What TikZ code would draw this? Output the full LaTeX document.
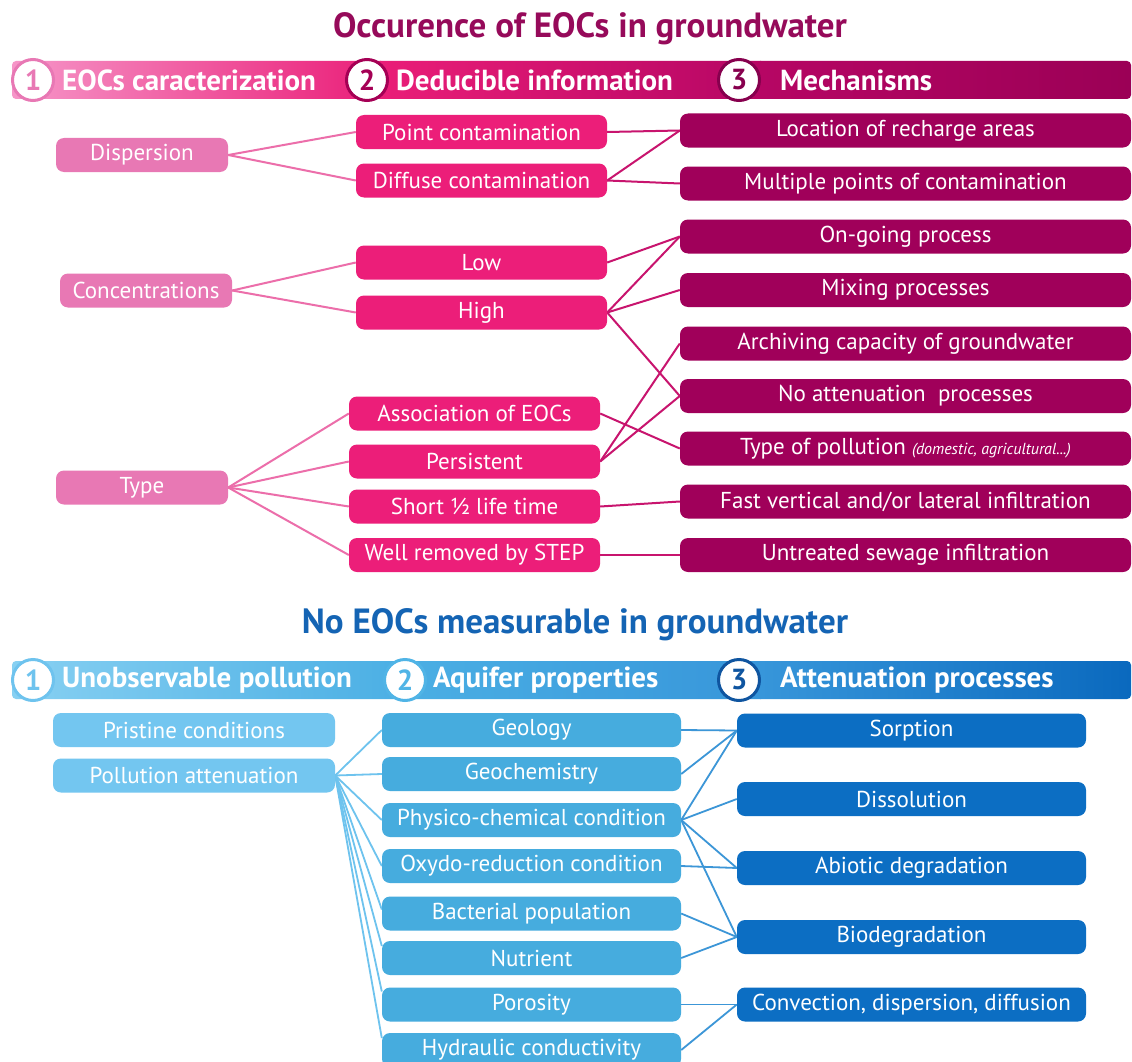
\documentclass[tikz,border=0pt]{standalone}
\usepackage{fontspec}
\setmainfont{PT Sans}
\definecolor{ptitle}{RGB}{150,10,90}
\definecolor{pone}{RGB}{232,120,180}
\definecolor{ptwo}{RGB}{236,30,121}
\definecolor{pthree}{RGB}{160,0,90}
\definecolor{plineA}{RGB}{236,110,170}
\definecolor{plineB}{RGB}{200,20,110}
\definecolor{pbarL}{RGB}{246,150,200}
\definecolor{pbarM}{RGB}{234,30,120}
\definecolor{pbarN}{RGB}{182,6,100}
\definecolor{pbarR}{RGB}{155,0,86}
\definecolor{pcircB}{RGB}{165,0,85}
\definecolor{pcircC}{RGB}{135,0,78}
\definecolor{btitle}{RGB}{20,100,180}
\definecolor{bone}{RGB}{115,198,240}
\definecolor{btwo}{RGB}{70,172,222}
\definecolor{bthree}{RGB}{12,110,195}
\definecolor{blineA}{RGB}{110,195,238}
\definecolor{blineB}{RGB}{60,150,215}
\definecolor{bbarL}{RGB}{135,208,242}
\definecolor{bbarM}{RGB}{75,175,228}
\definecolor{bbarN}{RGB}{55,150,218}
\definecolor{bbarR}{RGB}{10,105,190}
\definecolor{bcircA}{RGB}{110,195,238}
\definecolor{bcircB}{RGB}{80,180,230}
\definecolor{bcircC}{RGB}{15,85,160}
\pgfdeclarelayer{bg}
\pgfsetlayers{bg,main}
\newcommand{\boxfont}{\fontsize{23}{27}\selectfont}
\newcommand{\headfont}{\fontsize{29}{33}\selectfont\bfseries}
\newcommand{\titlefont}{\fontsize{35}{40}\selectfont\bfseries}
\begin{document}
\begin{tikzpicture}[x=1pt,y=-1pt,
  box/.style={rounded corners=8pt, inner sep=0pt, text=white, font=\boxfont, minimum height=34pt},
  pa/.style={box, fill=pone, minimum width=172pt},
  pb/.style={box, fill=ptwo, minimum width=251pt},
  pc/.style={box, fill=pthree, minimum width=451pt},
  ba/.style={box, fill=bone, minimum width=282pt},
  bb/.style={box, fill=btwo, minimum width=299pt},
  bc/.style={box, fill=bthree, minimum width=349pt},
  num/.style={circle, fill=white, line width=3pt, minimum size=41pt, inner sep=0pt, font=\headfont},
  head/.style={anchor=west, text=white, font=\headfont, inner sep=0pt},
  lnA/.style={line width=2pt, plineA},
  lnB/.style={line width=2pt, plineB},
  lnC/.style={line width=1.8pt, blineA},
  lnD/.style={line width=1.8pt, blineB}]
\useasboundingbox (0,0) rectangle (1132,1062);
\begin{pgfonlayer}{bg}
\fill[white] (0,0) rectangle (1132,1062);
\end{pgfonlayer}
\clip (0,0) rectangle (1132,1062);

% ---------- top section ----------
\node[font=\titlefont, text=ptitle] (t1) at (590,29) {Occurence of EOCs in groundwater};
\begin{scope}
\clip[rounded corners=4pt] (12,61) rectangle (1131,99);
\shade[left color=pbarL, right color=pbarM] (12,61) rectangle (381,99);
\shade[left color=pbarM, right color=pbarN] (380,61) rectangle (761,99);
\shade[left color=pbarN, right color=pbarR] (760,61) rectangle (1131,99);
\end{scope}
\node[num, draw=pone, text=pone] (c1) at (33,80) {1};
\node[num, draw=pcircB, text=pcircB] (c2) at (367,80) {2};
\node[num, draw=pcircC, text=pcircC] (c3) at (739,80) {3};
\node[head] (h1) at (62,80) {EOCs caracterization};
\node[head] (h2) at (396,80) {Deducible information};
\node[head] (h3) at (780,80) {Mechanisms};

\node[pa] (disp) at (142,155) {Dispersion};
\node[pa] (conc) at (146,290.5) {Concentrations};
\node[pa] (type) at (142,487.5) {Type};

\node[pb] (point) at (481.5,132) {Point contamination};
\node[pb] (diff) at (481.5,180.5) {Diffuse contamination};
\node[pb] (low) at (481.5,262.5) {Low};
\node[pb] (high) at (481.5,312.5) {High};
\node[pb] (assoc) at (474.5,413.5) {Association of EOCs};
\node[pb] (pers) at (474.5,461.5) {Persistent};
\node[pb] (short) at (474.5,506.5) {Short ½ life time};
\node[pb] (well) at (474.5,555) {Well removed by STEP};

\node[pc] (loc) at (905.5,130.5) {Location of recharge areas};
\node[pc] (mult) at (905.5,183.5) {Multiple points of contamination};
\node[pc] (ongo) at (905.5,236.5) {On-going process};
\node[pc] (mix) at (905.5,290) {Mixing processes};
\node[pc] (arch) at (905.5,343.5) {Archiving capacity of groundwater};
\node[pc] (noatt) at (905.5,396) {No attenuation\ \ processes};
\node[pc] (tpol) at (905.5,448.5) {Type of pollution {\fontsize{16}{18}\selectfont\itshape (domestic, agricultural...)}};
\node[pc] (fast) at (905.5,501.5) {Fast vertical and/or lateral infiltration};
\node[pc] (untr) at (905.5,555) {Untreated sewage infiltration};

\begin{pgfonlayer}{bg}
\draw[lnA] (disp.east) -- (point.west);
\draw[lnA] (disp.east) -- (diff.west);
\draw[lnA] (conc.east) -- (low.west);
\draw[lnA] (conc.east) -- (high.west);
\draw[lnA] (type.east) -- (assoc.west);
\draw[lnA] (type.east) -- (pers.west);
\draw[lnA] (type.east) -- (short.west);
\draw[lnA] (type.east) -- (well.west);
\draw[lnB] (point.east) -- (loc.west);
\draw[lnB] (diff.east) -- (loc.west);
\draw[lnB] (diff.east) -- (mult.west);
\draw[lnB] (low.east) -- (ongo.west);
\draw[lnB] (high.east) -- (ongo.west);
\draw[lnB] (high.east) -- (mix.west);
\draw[lnB] (high.east) -- (noatt.west);
\draw[lnB] (assoc.east) -- (tpol.west);
\draw[lnB] (pers.east) -- (arch.west);
\draw[lnB] (pers.east) -- (noatt.west);
\draw[lnB] (short.east) -- (fast.west);
\draw[lnB] (well.east) -- (untr.west);
\end{pgfonlayer}

% ---------- bottom section ----------
\node[font=\titlefont, text=btitle] (t2) at (575,625) {No EOCs measurable in groundwater};
\begin{scope}
\clip[rounded corners=4pt] (12,661) rectangle (1131,699);
\shade[left color=bbarL, right color=bbarM] (12,661) rectangle (401,699);
\shade[left color=bbarM, right color=bbarN] (400,661) rectangle (761,699);
\shade[left color=bbarN, right color=bbarR] (760,661) rectangle (1131,699);
\end{scope}
\node[num, draw=bcircA, text=bcircA] (d1) at (33,680) {1};
\node[num, draw=bcircB, text=bcircB] (d2) at (405,680) {2};
\node[num, draw=bcircC, text=bcircC] (d3) at (739,680) {3};
\node[head] (k1) at (62,680) {Unobservable pollution};
\node[head] (k2) at (433,680) {Aquifer properties};
\node[head] (k3) at (780,680) {Attenuation processes};

\node[ba] (prist) at (194,730) {Pristine conditions};
\node[ba] (patt) at (194,775.5) {Pollution attenuation};

\node[bb] (geol) at (531.5,730) {Geology};
\node[bb] (geoc) at (531.5,774) {Geochemistry};
\node[bb] (phys) at (531.5,820) {Physico-chemical condition};
\node[bb] (oxy) at (531.5,866) {Oxydo-reduction condition};
\node[bb] (bact) at (531.5,913.5) {Bacterial population};
\node[bb] (nutr) at (531.5,958) {Nutrient};
\node[bb] (poro) at (531.5,1004.5) {Porosity};
\node[bb] (hydr) at (531.5,1050) {Hydraulic conductivity};

\node[bc] (sorp) at (911.5,730.5) {Sorption};
\node[bc] (diss) at (911.5,799) {Dissolution};
\node[bc] (abio) at (911.5,868) {Abiotic degradation};
\node[bc] (biod) at (911.5,937) {Biodegradation};
\node[bc] (conv) at (911.5,1004.5) {Convection, dispersion, diffusion};

\begin{pgfonlayer}{bg}
\draw[lnC] (patt.east) -- (geol.west);
\draw[lnC] (patt.east) -- (geoc.west);
\draw[lnC] (patt.east) -- (phys.west);
\draw[lnC] (patt.east) -- (oxy.west);
\draw[lnC] (patt.east) -- ([yshift=4pt]bact.west);
\draw[lnC] (patt.east) -- ([yshift=12pt]nutr.west);
\draw[lnC] (patt.east) -- ([yshift=13pt]poro.west);
\draw[lnC] (patt.east) -- ([yshift=12pt]hydr.west);
\draw[lnD] (geol.east) -- (sorp.west);
\draw[lnD] (geoc.east) -- (sorp.west);
\draw[lnD] (phys.east) -- (sorp.west);
\draw[lnD] (phys.east) -- (diss.west);
\draw[lnD] (phys.east) -- (abio.west);
\draw[lnD] (phys.east) -- (biod.west);
\draw[lnD] (oxy.east) -- (abio.west);
\draw[lnD] (bact.east) -- (biod.west);
\draw[lnD] (nutr.east) -- (biod.west);
\draw[lnD] (poro.east) -- (conv.west);
\draw[lnD] (hydr.east) -- (conv.west);
\end{pgfonlayer}
\end{tikzpicture}
\end{document}
